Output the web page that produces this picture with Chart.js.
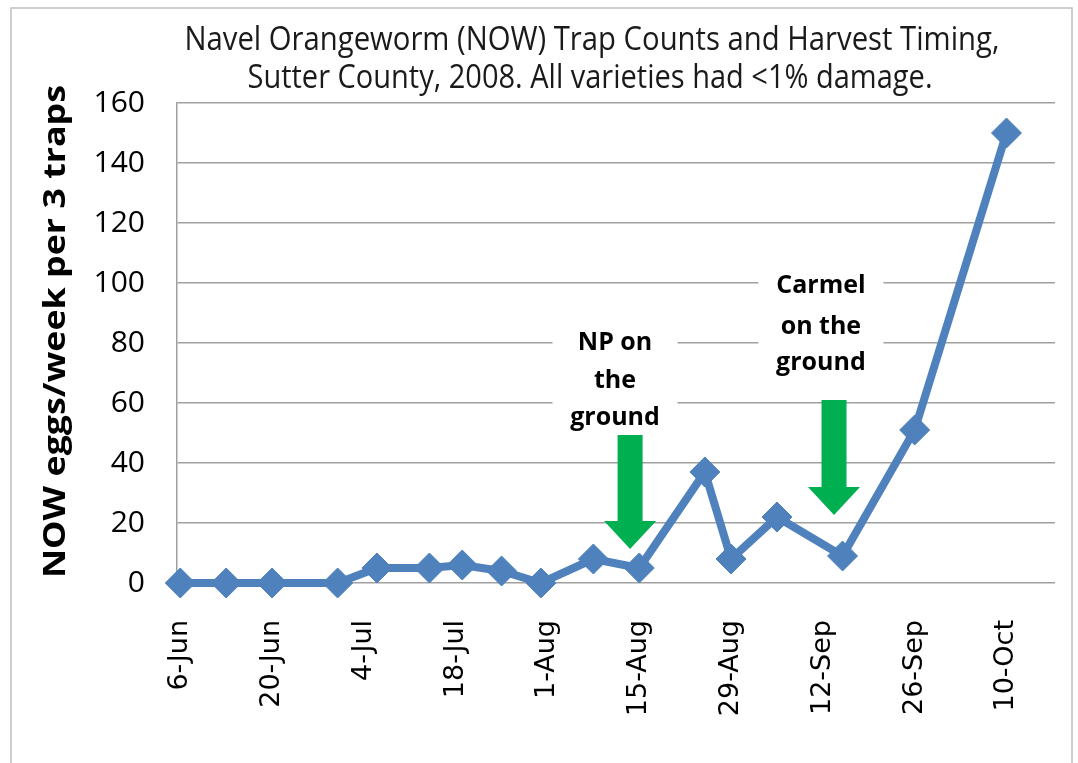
<!DOCTYPE html>
<html>
<head>
<meta charset="utf-8">
<title>NOW trap counts, Sutter County 2008</title>
<script src="https://cdn.jsdelivr.net/npm/chart.js@4.4.1/dist/chart.umd.min.js"></script>
<style>
  html, body { margin: 0; padding: 0; background: #fff; }
  #wrap { position: relative; width: 1078px; height: 763px; }
</style>
</head>
<body>
<div id="wrap"><canvas id="nowChart" width="1078" height="763"></canvas></div>
<script>
// trap check dates and NOW egg counts (per 3 traps)
const trapDates = [
    '2008-06-06', '2008-06-13', '2008-06-20', '2008-06-30', '2008-07-06',
    '2008-07-14', '2008-07-19', '2008-07-25', '2008-07-31', '2008-08-08',
    '2008-08-15', '2008-08-25', '2008-08-29', '2008-09-05', '2008-09-15',
    '2008-09-26', '2008-10-10'
];
const eggCounts = [0, 0, 0, 0, 5, 5, 6, 4, 0, 8, 5, 37, 8, 22, 9, 51, 150];

// x axis ticks every 14 days
const tickDates = [
    '2008-06-06', '2008-06-20', '2008-07-04', '2008-07-18', '2008-08-01',
    '2008-08-15', '2008-08-29', '2008-09-12', '2008-09-26', '2008-10-10'
];
const yTicks = [0, 20, 40, 60, 80, 100, 120, 140, 160];

const titleLines = [
    'Navel Orangeworm (NOW) Trap Counts and Harvest Timing,',
    'Sutter County, 2008. All varieties had <1% damage.'
];
const yTitle = 'NOW eggs/week per 3 traps';

// harvest callouts (x in days after first trap date, y in axis units)
const harvestNotes = [
    { lines: ['NP on', 'the', 'ground'], textDay: 66.3, lineY: [80, 67.3, 55.2],
      boxTop: 90, boxBottom: 48, arrowDay: 68.6, arrowTop: 49.3, headBase: 20.7, tip: 11.3 },
    { lines: ['Carmel', 'on the', 'ground'], textDay: 97.7, lineY: [99, 85.5, 73.3],
      boxTop: 110, boxBottom: 63, arrowDay: 99.7, arrowTop: 61, headBase: 32, tip: 22.7 }
];

const MONTHS = ['Jan', 'Feb', 'Mar', 'Apr', 'May', 'Jun', 'Jul', 'Aug', 'Sep', 'Oct', 'Nov', 'Dec'];
const DAY = 86400000;
const start = Date.parse(trapDates[0]);
const dayOf = s => Math.round((Date.parse(s) - start) / DAY);
const fmtDay = v => {
    const d = new Date(start + v * DAY);
    return d.getUTCDate() + '-' + MONTHS[d.getUTCMonth()];
};

const BLUE = '#4f81bd';
const GRID = '#a0a0a0';

const harvestMarks = {
    id: 'harvestMarks',
    beforeDatasetsDraw(chart) {
        const { ctx, scales: { x, y } } = chart;
        ctx.save();
        harvestNotes.forEach(n => {
            // white text box (breaks the gridlines)
            const tx = x.getPixelForValue(n.textDay);
            const bt = y.getPixelForValue(n.boxTop);
            const bb = y.getPixelForValue(n.boxBottom);
            ctx.fillStyle = '#fff';
            ctx.fillRect(tx - 62.5, bt, 125, bb - bt);

            // green arrow
            const ax = x.getPixelForValue(n.arrowDay);
            const top = y.getPixelForValue(n.arrowTop);
            const hb = y.getPixelForValue(n.headBase);
            const tip = y.getPixelForValue(n.tip);
            ctx.fillStyle = '#00b050';
            ctx.beginPath();
            ctx.moveTo(ax - 12.5, top);
            ctx.lineTo(ax + 12.5, top);
            ctx.lineTo(ax + 12.5, hb);
            ctx.lineTo(ax + 26, hb);
            ctx.lineTo(ax, tip);
            ctx.lineTo(ax - 26, hb);
            ctx.lineTo(ax - 12.5, hb);
            ctx.closePath();
            ctx.fill();

            // label
            ctx.fillStyle = '#000';
            ctx.font = 'bold 25px "Open Sans", sans-serif';
            ctx.textAlign = 'center';
            ctx.textBaseline = 'middle';
            n.lines.forEach((t, i) => ctx.fillText(t, tx, y.getPixelForValue(n.lineY[i]), 90));
        });
        ctx.restore();
    }
};

const frameAndTitle = {
    id: 'frameAndTitle',
    beforeDraw(chart) {
        const { ctx, width, height } = chart;
        ctx.save();
        ctx.fillStyle = '#fff';
        ctx.fillRect(0, 0, width, height);
        ctx.restore();
    },
    afterDraw(chart) {
        const { ctx } = chart;
        ctx.save();
        ctx.strokeStyle = '#bfbfbf';
        ctx.lineWidth = 1.5;
        ctx.strokeRect(11, 8, 1061, 770);

        // chart title, squeezed to the narrow look of the original
        ctx.fillStyle = '#1a1a1a';
        ctx.font = '32px "Open Sans", sans-serif';
        ctx.textAlign = 'center';
        ctx.textBaseline = 'middle';
        ctx.fillText(titleLines[0], 592, 41, 815);
        ctx.fillText(titleLines[1], 590, 79, 685);

        // y axis title, stretched along its length
        ctx.font = 'bold 30px "Open Sans", sans-serif';
        const w = ctx.measureText(yTitle).width;
        ctx.fillStyle = '#000';
        ctx.translate(56, 331.5);
        ctx.rotate(-Math.PI / 2);
        ctx.scale(493 / w, 1);
        ctx.fillText(yTitle, 0, 0);
        ctx.restore();
    }
};

const ctx = document.getElementById('nowChart').getContext('2d');
const nowChart = new Chart(ctx, {
    type: 'line',
    data: {
        datasets: [{
            label: 'NOW eggs',
            data: trapDates.map((d, i) => ({ x: dayOf(d), y: eggCounts[i] })),
            borderColor: BLUE,
            backgroundColor: BLUE,
            borderWidth: 8,
            tension: 0,
            pointStyle: 'rectRot',
            pointRadius: 15,
            pointBorderWidth: 1,
            pointBackgroundColor: BLUE,
            pointBorderColor: BLUE,
            clip: false
        }]
    },
    options: {
        responsive: false,
        animation: false,
        layout: { padding: { top: 103, right: 23, bottom: 0, left: 0 } },
        plugins: {
            legend: { display: false },
            tooltip: { enabled: false },
            title: { display: false }
        },
        scales: {
            x: {
                type: 'linear',
                min: -0.5,
                max: 133.4,
                afterBuildTicks: s => { s.ticks = tickDates.map(d => ({ value: dayOf(d) })); },
                afterFit: s => { s.height = 180; },
                grid: { display: false, drawTicks: false },
                border: { display: false },
                ticks: {
                    autoSkip: false,
                    minRotation: 90,
                    maxRotation: 90,
                    padding: 37,
                    color: '#000',
                    font: { family: '"DejaVu Sans", sans-serif', size: 27 },
                    callback: v => fmtDay(v)
                }
            },
            y: {
                min: 0,
                max: 160,
                afterBuildTicks: s => { s.ticks = yTicks.map(v => ({ value: v })); },
                afterFit: s => { s.width = 177; },
                grid: { color: GRID, lineWidth: 1.5, drawTicks: false },
                border: { display: true, color: GRID, width: 1.5 },
                ticks: {
                    padding: 32,
                    color: '#000',
                    font: { family: '"Open Sans", sans-serif', size: 30 }
                }
            }
        }
    },
    plugins: [frameAndTitle, harvestMarks]
});
</script>
</body>
</html>
